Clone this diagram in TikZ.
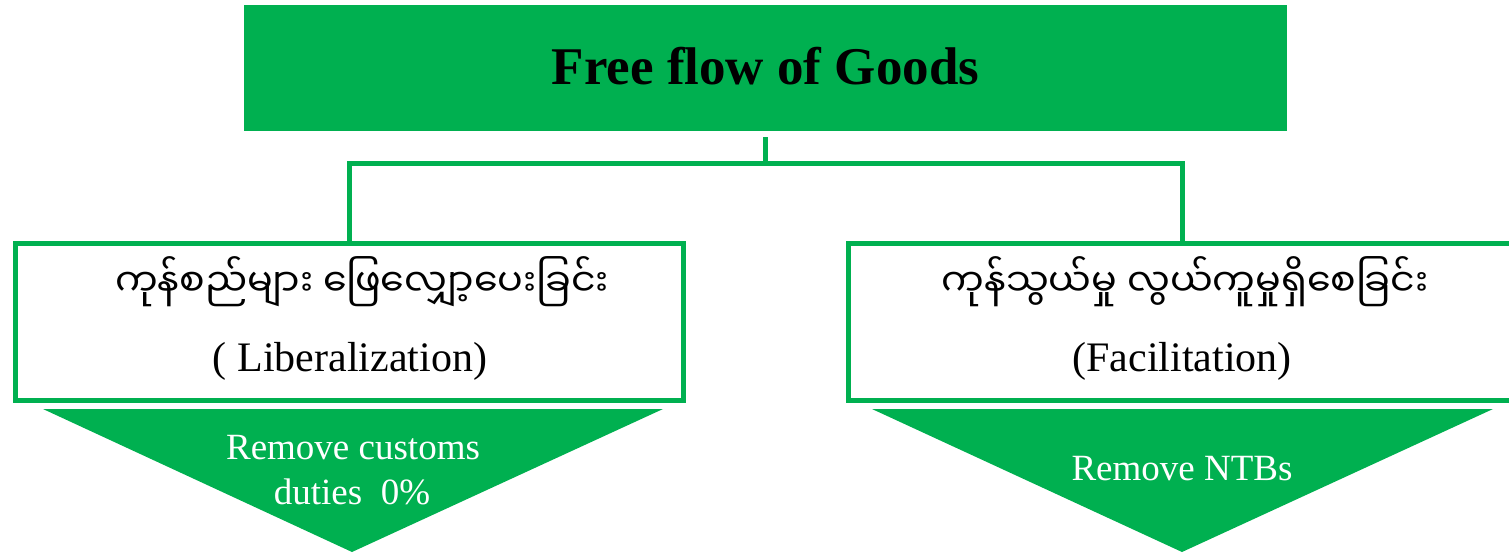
\documentclass[tikz,border=0pt]{standalone}
\usepackage{fontspec}
\usetikzlibrary{calc}
\setmainfont{Liberation Serif}
\newfontfamily\mmfont[Script=Myanmar]{Noto Sans Myanmar UI}
\definecolor{offgreen}{HTML}{00B050}
\begin{document}
\begin{tikzpicture}[x=1pt,y=-1pt,
  topbox/.style={fill=offgreen,draw=none,minimum width=1043pt,minimum height=126pt,inner sep=0pt},
  subbox/.style={draw=offgreen,line width=5pt,fill=white,minimum width=668pt,minimum height=157pt,inner sep=0pt},
  conn/.style={draw=offgreen,line width=5pt},
  tri/.style={fill=offgreen,draw=none},
  mmtext/.style={anchor=base,inner sep=0pt,font=\mmfont\fontsize{38}{44}\selectfont},
  lattext/.style={anchor=base,inner sep=0pt,font=\fontsize{42}{48}\selectfont},
  tritext/.style={anchor=base,inner sep=0pt,text=white,font=\fontsize{37}{42}\selectfont}]
\useasboundingbox (0,0) rectangle (1509,552);
\clip (0,0) rectangle (1509,552);
% triangles
\fill[tri] (43,409) -- (663,409) -- (352,552) -- cycle;
\fill[tri] (872,409) -- (1493,409) -- (1182,552) -- cycle;
% boxes
\node[topbox] (top) at (765.5,68) {};
\node[subbox] (left) at (349.5,322) {};
\node[subbox] (right) at (1182,322) {};
% connectors
\coordinate (stem) at ($(top.south)+(0,6)$);
\coordinate (mid) at (765.5,163);
\draw[conn] (stem) -- (mid);
\draw[conn] (left.north) -- (left.north |- mid) -- (right.north |- mid) -- (right.north);
% texts
\node[anchor=base,inner sep=0pt,font=\bfseries\fontsize{53}{60}\selectfont] (title) at (765.5,84) {Free flow of Goods};
\node[mmtext] (lmm) at (362,296) {ကုန်စည်များ ဖြေလျှော့ပေးခြင်း};
\node[lattext] (llat) at (350,371) {( Liberalization)};
\node[mmtext] (rmm) at (1185,296) {ကုန်သွယ်မှု လွယ်ကူမှုရှိစေခြင်း};
\node[lattext] (rlat) at (1182,371) {(Facilitation)};
\node[tritext] (t1) at (353,459) {Remove customs};
\node[tritext] (t2) at (352,504) {duties\ \ 0\%};
\node[tritext] (t3) at (1182,480) {Remove NTBs};
\end{tikzpicture}
\end{document}
